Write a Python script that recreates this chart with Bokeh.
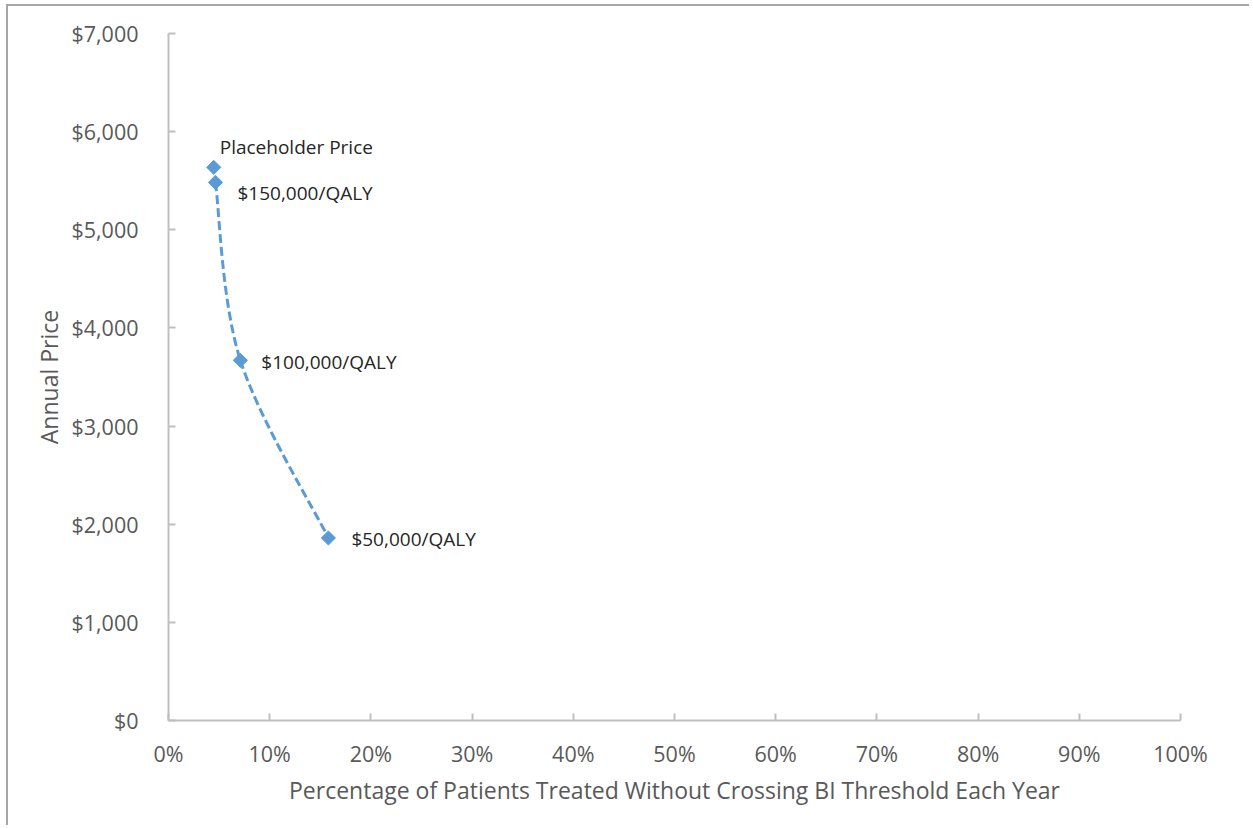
from bokeh.plotting import figure
from bokeh.models import (NumeralTickFormatter, SingleIntervalTicker, Range1d, Label,
                          ColumnDataSource)
from bokeh.embed import file_html
from bokeh.resources import INLINE

# Willingness-to-pay thresholds: share of patients treatable without crossing
# the budget-impact threshold vs. the annual price at that threshold
threshold_labels = ["$150,000/QALY", "$100,000/QALY", "$50,000/QALY"]
threshold_pct = [0.0464, 0.0710, 0.1580]
threshold_price = [5483, 3670, 1860]

placeholder_label = ["Placeholder Price"]
placeholder_pct = [0.0447]
placeholder_price = [5636]

x_ticks_step = 0.1
y_ticks_step = 1000

BLUE = "#5B9BD5"
AXIS_GREY = "#BFBFBF"
TICK_TEXT = "#595959"
LABEL_TEXT = "#262626"
FONT = "Open Sans"

p = figure(width=1243, height=821, output_backend="svg", toolbar_location=None,
           x_range=Range1d(0, 1), y_range=Range1d(0, 7000),
           min_border_left=160, min_border_right=71, min_border_top=27,
           min_border_bottom=107)
p.styles = {"border-left": "2px solid #A6A6A6", "border-top": "2px solid #A6A6A6",
            "margin-left": "6px", "margin-top": "4px"}
p.outline_line_color = None
p.xgrid.visible = False
p.ygrid.visible = False

# Smooth (Catmull-Rom style) Bezier segments through the threshold points
n = len(threshold_pct)
pts = list(zip(threshold_pct, threshold_price))
seg = dict(x0=[], y0=[], x1=[], y1=[], cx0=[], cy0=[], cx1=[], cy1=[])
for i in range(n - 1):
    prev = pts[max(i - 1, 0)]
    a = pts[i]
    b = pts[i + 1]
    nxt = pts[min(i + 2, n - 1)]
    seg["x0"].append(a[0]); seg["y0"].append(a[1])
    seg["x1"].append(b[0]); seg["y1"].append(b[1])
    seg["cx0"].append(a[0] + (b[0] - prev[0]) / 6)
    seg["cy0"].append(a[1] + (b[1] - prev[1]) / 6)
    seg["cx1"].append(b[0] - (nxt[0] - a[0]) / 6)
    seg["cy1"].append(b[1] - (nxt[1] - a[1]) / 6)
p.bezier(x0="x0", y0="y0", x1="x1", y1="y1", cx0="cx0", cy0="cy0", cx1="cx1", cy1="cy1",
         source=ColumnDataSource(seg), line_color=BLUE, line_width=3, line_dash="9 4")

# Diamond markers
p.scatter(threshold_pct, threshold_price, marker="square", angle=0.785398,
          size=10, fill_color=BLUE, line_color=BLUE)
p.scatter(placeholder_pct, placeholder_price, marker="square", angle=0.785398,
          size=10, fill_color=BLUE, line_color=BLUE)

# Point labels
label_offsets = [(22, -11), (21, -2), (23, -1)]
for lbl, xv, yv, (dx, dy) in zip(threshold_labels, threshold_pct, threshold_price, label_offsets):
    p.add_layout(Label(x=xv, y=yv, text=lbl, x_offset=dx, y_offset=dy,
                       text_font=FONT, text_font_size="19px", text_color=LABEL_TEXT,
                       text_baseline="middle", text_align="left"))
for lbl, xv, yv in zip(placeholder_label, placeholder_pct, placeholder_price):
    p.add_layout(Label(x=xv, y=yv, text=lbl, x_offset=6, y_offset=20,
                       text_font=FONT, text_font_size="19px", text_color=LABEL_TEXT,
                       text_baseline="middle", text_align="left"))

# Axes
p.xaxis.ticker = SingleIntervalTicker(interval=x_ticks_step)
p.yaxis.ticker = SingleIntervalTicker(interval=y_ticks_step)
p.xaxis.formatter = NumeralTickFormatter(format="0%")
p.yaxis.formatter = NumeralTickFormatter(format="$0,0")
p.xaxis.axis_label = "Percentage of Patients Treated Without Crossing BI Threshold Each Year"
p.yaxis.axis_label = "Annual Price"
for ax in (p.xaxis, p.yaxis):
    ax.axis_line_color = AXIS_GREY
    ax.axis_line_width = 2
    ax.major_tick_line_color = AXIS_GREY
    ax.major_tick_line_width = 2
    ax.major_tick_in = 7
    ax.major_tick_out = 0
    ax.minor_tick_line_color = None
    ax.major_label_text_font = FONT
    ax.major_label_text_font_size = "21.5px"
    ax.major_label_text_color = TICK_TEXT
    ax.axis_label_text_font = FONT
    ax.axis_label_text_font_size = "23px"
    ax.axis_label_text_font_style = "normal"
    ax.axis_label_text_color = TICK_TEXT
p.xaxis.major_label_standoff = 14
p.xaxis.axis_label_standoff = 3
p.yaxis.major_label_standoff = 26
p.yaxis.axis_label_standoff = 3

open("out.html", "w").write(file_html(p, INLINE))
